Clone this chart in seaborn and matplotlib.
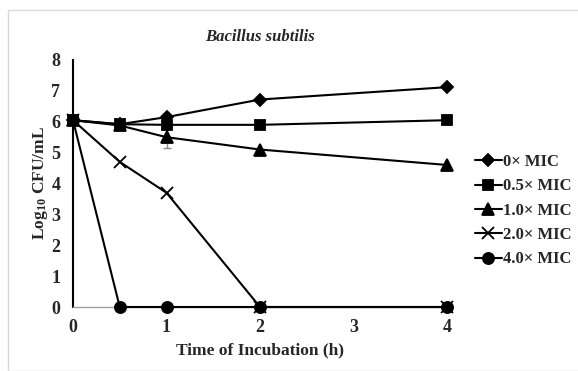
import matplotlib
matplotlib.use("Agg")
import matplotlib.pyplot as plt
import seaborn as sns
import pandas as pd
from matplotlib.patches import Rectangle

# dados
tempo = [0, 0.5, 1, 2, 4]
mic_0 = [6.05, 5.92, 6.15, 6.72, 7.12]
mic_05 = [6.05, 5.92, 5.9, 5.9, 6.05]
mic_10 = [6.05, 5.88, 5.5, 5.1, 4.6]
mic_20 = [6.05, 4.7, 3.7, 0.0, 0.0]
mic_40 = [6.05, 0.0, 0.0, 0.0, 0.0]
erro_10 = [0, 0, 0.35, 0, 0]
rotulos = ["0× MIC", "0.5× MIC", "1.0× MIC", "2.0× MIC", "4.0× MIC"]
marcadores = ["D", "s", "^", "x", "o"]
tamanhos = [6, 7.5, 8, 8, 8]

series = [mic_0, mic_05, mic_10, mic_20, mic_40]
df = pd.DataFrame({
    "Tempo": tempo * len(series),
    "Log": [v for s in series for v in s],
    "Grupo": [r for r, s in zip(rotulos, series) for _ in s],
})

sns.set_style("white")
plt.rcParams["font.family"] = ["Liberation Serif", "DejaVu Serif"]
plt.rcParams["font.weight"] = "bold"
plt.rcParams["mathtext.fontset"] = "custom"
plt.rcParams["mathtext.rm"] = "Liberation Serif:bold"
plt.rcParams["mathtext.it"] = "Liberation Serif:bold"
plt.rcParams["mathtext.bf"] = "Liberation Serif:bold"

fig = plt.figure(figsize=(5.78, 3.71), dpi=100)
fig.patches.append(Rectangle((8 / 578, 0), 1, 1 - 10 / 371, transform=fig.transFigure,
                             fill=False, edgecolor="#d9d9d9", linewidth=1))
ax = fig.add_axes([73 / 578, 1 - 307 / 371, 374 / 578, 247 / 371])

# barra de erro do 1.0x
ax.errorbar(tempo, mic_10, yerr=erro_10, fmt="none", ecolor="#8c8c8c",
            elinewidth=1, capsize=3, zorder=1)

for r, m, t in zip(rotulos, marcadores, tamanhos):
    sub = df[df["Grupo"] == r]
    sns.lineplot(data=sub, x="Tempo", y="Log", ax=ax, color="black", marker=m,
                 markersize=t, markeredgecolor="black", markeredgewidth=1.3,
                 linewidth=1.5, label=r, zorder=3, clip_on=False)

ax.set_xlim(0, 4)
ax.set_ylim(0, 8)
ax.set_xticks([0, 1, 2, 3, 4])
ax.set_yticks(range(0, 9))
ax.tick_params(axis="both", labelsize=13, direction="out")
ax.tick_params(axis="y", length=4, width=1, color="black", pad=5)
ax.tick_params(axis="x", length=4, width=1, color="#a0a0a0", pad=5)
for s in ["top", "right"]:
    ax.spines[s].set_visible(False)
ax.spines["left"].set_color("black")
ax.spines["left"].set_linewidth(1.5)
ax.spines["bottom"].set_color("#a0a0a0")
ax.spines["bottom"].set_linewidth(1)
for lab in ax.get_xticklabels() + ax.get_yticklabels():
    lab.set_fontweight("bold")

ax.set_xlabel("Time of Incubation (h)", fontsize=12.5, fontweight="bold", labelpad=4)
ax.set_ylabel("Log$_{10}$ CFU/mL", fontsize=12.5, fontweight="bold", labelpad=1)
ax.set_title("Bacillus subtilis", fontsize=12, fontweight="bold", style="italic", pad=14)

leg = ax.legend(loc="center left", bbox_to_anchor=(1.035, 0.39), frameon=False,
                prop={"weight": "bold", "size": 12}, handlelength=1.6,
                handletextpad=0.1, labelspacing=0.5)

fig.savefig("out.png", dpi=100)
